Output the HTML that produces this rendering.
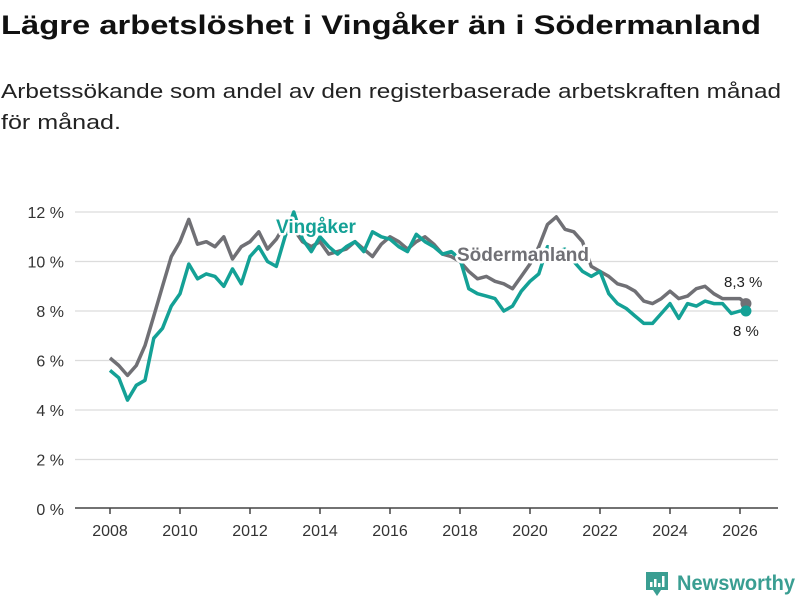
<!DOCTYPE html>
<html><head><meta charset="utf-8"><style>
body{margin:0;background:#fff;}
svg{display:block;font-family:"Liberation Sans","DejaVu Sans",sans-serif;}
</style></head><body>
<svg id="chart" width="800" height="600" viewBox="0 0 800 600">
<text x="1" y="34" font-size="27" font-weight="bold" fill="#111" textLength="760" lengthAdjust="spacingAndGlyphs">Lägre arbetslöshet i Vingåker än i Södermanland</text>
<text x="1" y="98" font-size="20" fill="#222" textLength="780" lengthAdjust="spacingAndGlyphs">Arbetssökande som andel av den registerbaserade arbetskraften månad</text>
<text x="1" y="129" font-size="20" fill="#222" textLength="120" lengthAdjust="spacingAndGlyphs">för månad.</text>
<g id="grid"></g>
<g id="yaxis"></g>
<g id="xaxis"></g>
<g id="series"></g>
<g>
<path d="M646 572 h22 v18 h-7 l-4 6 l-4 -6 h-7 z" fill="#3a9e92"/>
<rect x="650" y="582" width="2.5" height="5" fill="#fff"/><rect x="654" y="579" width="2.5" height="8" fill="#fff"/><rect x="658" y="583" width="2.5" height="4" fill="#fff"/><rect x="662" y="576" width="2.5" height="11" fill="#fff"/>
<text x="677" y="590" font-size="21" font-weight="bold" fill="#3a9e92" textLength="118" lengthAdjust="spacingAndGlyphs">Newsworthy</text>
</g>
</svg>
<script>
const startYear = 2008;
const stepYears = 0.25;
const lastDate = 2026.17;
const yTicks = [0, 2, 4, 6, 8, 10, 12];
const xTicks = [2008, 2010, 2012, 2014, 2016, 2018, 2020, 2022, 2024, 2026];
const sodermanland = [6.1,5.8,5.4,5.8,6.6,7.8,9.0,10.2,10.8,11.7,10.7,10.8,10.6,11.0,10.1,10.6,10.8,11.2,10.5,10.9,11.5,11.3,10.8,10.6,10.8,10.3,10.4,10.5,10.8,10.5,10.2,10.7,11.0,10.8,10.5,10.8,11.0,10.7,10.3,10.2,10.0,9.6,9.3,9.4,9.2,9.1,8.9,9.4,9.9,10.6,11.5,11.8,11.3,11.2,10.8,9.8,9.6,9.4,9.1,9.0,8.8,8.4,8.3,8.5,8.8,8.5,8.6,8.9,9.0,8.7,8.5,8.5,8.5,8.3];
const vingaker = [5.6,5.3,4.4,5.0,5.2,6.9,7.3,8.2,8.7,9.9,9.3,9.5,9.4,9.0,9.7,9.1,10.2,10.6,10.0,9.8,11.0,12.0,10.9,10.4,11.0,10.6,10.3,10.6,10.8,10.4,11.2,11.0,10.9,10.6,10.4,11.1,10.8,10.6,10.3,10.4,10.1,8.9,8.7,8.6,8.5,8.0,8.2,8.8,9.2,9.5,10.6,10.4,10.5,10.0,9.6,9.4,9.6,8.7,8.3,8.1,7.8,7.5,7.5,7.9,8.3,7.7,8.3,8.2,8.4,8.3,8.3,7.9,8.0,8.0];
const seriesNames = ["Södermanland", "Vingåker"];
const endLabels = ["8,3 %", "8 %"];

const NS = "http://www.w3.org/2000/svg";
const xs = y => 110 + (y - 2008) * 35;
const ys = v => 509 - v * 24.75;
function mk(tag, attrs, parent){const e=document.createElementNS(NS,tag);for(const k in attrs)e.setAttribute(k,attrs[k]);parent.appendChild(e);return e;}
const grid=document.getElementById('grid'), yax=document.getElementById('yaxis'), xax=document.getElementById('xaxis'), ser=document.getElementById('series');
yTicks.forEach(t=>{
  if(t>0){const l=mk('line',{x1:75,x2:778,y1:ys(t),y2:ys(t),stroke:'#dcdcdc','stroke-width':1.3},grid);
  
  }
  const tx=mk('text',{x:64,y:ys(t)+6,'font-size':16,fill:'#333','text-anchor':'end'},yax);
  tx.textContent=t+' %';
  
  
});
const base=mk('line',{x1:75,x2:778,y1:508,y2:508,stroke:'#444','stroke-width':1.5},xax);


xTicks.forEach(t=>{
  mk('line',{x1:xs(t),x2:xs(t),y1:508,y2:514,stroke:'#444','stroke-width':1.5},xax);
  const tx=mk('text',{x:xs(t),y:536,'font-size':16,fill:'#333','text-anchor':'middle'},xax);
  tx.textContent=t;
  
  
});
function dateAt(i,n){return i===n-1?lastDate:startYear+i*stepYears;}
function drawLine(vals,color,name){
  const d=vals.map((v,i)=>(i?'L':'M')+xs(dateAt(i,vals.length)).toFixed(1)+' '+ys(v).toFixed(1)).join(' ');
  const p=mk('path',{d:d,fill:'none',stroke:color,'stroke-width':3.5,'stroke-linejoin':'round'},ser);
  
  
  const n=vals.length;
  const c=mk('circle',{cx:xs(dateAt(n-1,n)),cy:ys(vals[n-1]),r:5.5,fill:color},ser);
  
  
}
drawLine(sodermanland,'#707075','sodermanland');
drawLine(vingaker,'#14a196','vingaker');
function label(txt,x,y,color,size,bold,name){
  const t=mk('text',{x:x,y:y,'font-size':size,'font-weight':bold?'bold':'normal',fill:color,stroke:'#fff','stroke-width':bold?5:4,'paint-order':'stroke','stroke-linejoin':'round'},ser);
  t.textContent=txt;
  
  
}
label(seriesNames[1],276,233,'#14a196',19,true,'vingaker-label');
label(seriesNames[0],457,261,'#707075',19,true,'sodermanland-label');
const nS=sodermanland.length, nV=vingaker.length;
label(endLabels[0],724,287,'#222',15,false,'sodermanland-end-value');
label(endLabels[1],733,336,'#222',15,false,'vingaker-end-value');
</script>
</body></html>
